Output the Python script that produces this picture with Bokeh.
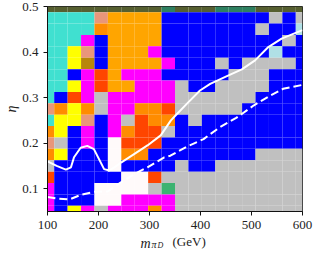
from bokeh.plotting import figure
from bokeh.embed import file_html
from bokeh.resources import INLINE
from bokeh.models import Label, FixedTicker, ColumnDataSource, Range1d

palette = {
    "T": "#40E0D0", "O": "#FFA500", "B": "#0000FF", "M": "#FF00FF", "Y": "#FFFF00",
    "R": "#FF4500", "D": "#FF8C00", "S": "#E9967A", "G": "#B8860B", "C": "#C0C0C0",
    "W": "#FFFAFA", "P": "#B0E0E6", "E": "#3CB371", "L": "#565F30", "A": "#2E8060",
}

eta_rows = [0.5, 0.475, 0.45, 0.425, 0.4, 0.375, 0.35, 0.325, 0.3, 0.275,
            0.25, 0.225, 0.2, 0.175, 0.15, 0.125, 0.1, 0.075, 0.05]
cells = [
    "LLLLLLLLLALLLAAALLLL",
    "TTTTSOOOOBBBBBBBBCBC",
    "TTTTDOOOOBBBBBBBCBBP",
    "TTTMBOOOOBBBBBBBBBCB",
    "TTYSBOOOMBBBBBBBBPBB",
    "TTYGBOOOOMBBBCBCCCCB",
    "TTBMROMMMBBBBBCCCBBB",
    "TTYMROOMMMCBBCCCCBBB",
    "TBRMCMMMMMCCCCCCBBBB",
    "SDYDCMMDDRCCCCCBBBBB",
    "TYYSBMCRDDBCBBBBBBBB",
    "DYBMBMDRRCBBBBBBBBBB",
    "SCBMBWRRRBBBBBBBBBBB",
    "DYBBBWDDBBBBBBBBCCCC",
    "CBBBBWBBBBCBBCCCCCCC",
    "RBBBBBWWRCCCCCCCCCCC",
    "MBBBWWWWCECCCCCCCCCC",
    "MBBBWWMMMMCCCCCCCCCC",
    "MBYMCMMMDMCCCCCCCCCC",
]
mass_cols = [100 + i * 500 / 19 for i in range(20)]

solid_x = [100, 118, 136, 146, 152, 165, 178, 191, 201, 211, 221, 231, 245, 296, 322, 342, 351,
           373, 399, 419, 455, 481, 507, 533, 559, 600]
solid_y = [0.16, 0.15, 0.142, 0.147, 0.169, 0.19, 0.194, 0.187, 0.165, 0.143, 0.14, 0.147, 0.158,
           0.195, 0.217, 0.25, 0.2606, 0.2863, 0.3156, 0.33, 0.3487, 0.362, 0.3817, 0.411, 0.4295, 0.448]
dash_x = [100, 120, 143, 166, 192, 218, 244, 270, 296, 329, 341, 373, 406, 438, 470, 481, 504, 537, 562, 600]
dash_y = [0.082, 0.078, 0.0765, 0.0868, 0.0934, 0.094, 0.114, 0.132, 0.147, 0.169, 0.1725, 0.1923,
          0.209, 0.235, 0.2555, 0.264, 0.2826, 0.3046, 0.3193, 0.328]

x_ticks = [100, 200, 300, 400, 500, 600]
y_ticks = [0.1, 0.2, 0.3, 0.4, 0.5]
FONT = "Liberation Serif"

p = figure(width=314, height=254, frame_width=255, frame_height=205,
           output_backend="svg", toolbar_location=None,
           x_range=Range1d(100, 600), y_range=Range1d(0.05, 0.5),
           min_border_left=47, min_border_right=12, min_border_top=6, min_border_bottom=43)
p.styles = {"position": "absolute", "left": "0px", "top": "0px"}
p.background_fill_color = None
p.border_fill_color = "white"
p.grid.visible = False
p.outline_line_color = "#222222"
p.outline_line_width = 1

step_x = 500 / 19
step_y = 0.025
left, right, top, bottom, color = [], [], [], [], []
for e, row in zip(eta_rows, cells):
    for m, c in zip(mass_cols, row):
        left.append(max(100, m - step_x / 2))
        right.append(min(600, m + step_x / 2))
        bottom.append(max(0.05, e - step_y / 2))
        top.append(min(0.5, e + step_y / 2))
        color.append(palette[c])
src = ColumnDataSource(dict(left=left, right=right, top=top, bottom=bottom, color=color))
p.quad(left="left", right="right", top="top", bottom="bottom", fill_color="color",
       line_color=None, source=src)

p.line(solid_x, solid_y, line_color="white", line_width=2)
p.line(dash_x, dash_y, line_color="white", line_width=2, line_dash="8 4")

for ax in (p.xaxis[0], p.yaxis[0]):
    ax.axis_line_color = "#111111"
    ax.major_tick_line_color = "#111111"
    ax.major_tick_in = 0
    ax.major_tick_out = 4
    ax.minor_tick_line_color = None
    ax.major_label_text_font = FONT
    ax.major_label_text_font_size = "13px"
    ax.major_label_text_color = "#222222"
p.xaxis[0].ticker = FixedTicker(ticks=x_ticks)
p.yaxis[0].ticker = FixedTicker(ticks=y_ticks)
p.xaxis[0].major_label_standoff = 5
p.yaxis[0].major_label_standoff = 5
p.yaxis[0].axis_label = "η"
p.yaxis[0].axis_label_text_font = FONT
p.yaxis[0].axis_label_text_font_style = "italic"
p.yaxis[0].axis_label_text_font_size = "14px"
p.yaxis[0].axis_label_text_color = "#222222"
p.yaxis[0].axis_label_standoff = 0

def lab(txt, x, y, size, style="normal"):
    p.add_layout(Label(x=x, y=y, x_units="screen", y_units="screen", text=txt,
                       text_font=FONT, text_font_size=size, text_font_style=style,
                       text_color="#222222", text_baseline="alphabetic"), "below")

lab("m", 140 - 47, 3, "14px", "italic")
lab("π", 151 - 47, 13, "10px", "italic")
lab("D", 157 - 47, 21, "8px", "italic")
lab("(GeV)", 172 - 47, 40, "13px")

open("out.html", "w").write(file_html(p, INLINE))
